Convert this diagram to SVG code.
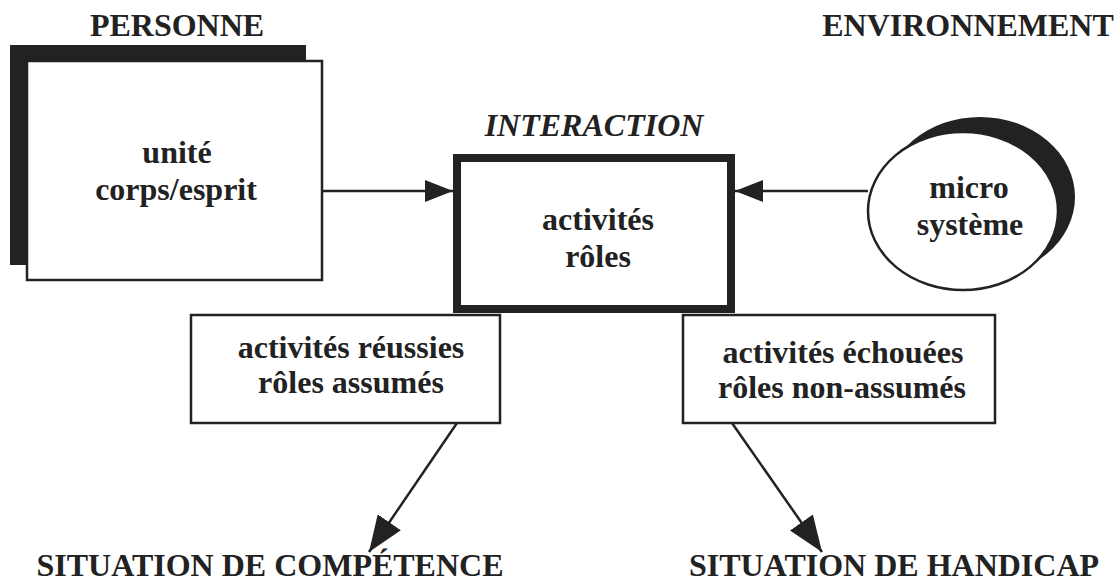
<svg xmlns="http://www.w3.org/2000/svg" width="1120" height="586" viewBox="0 0 1120 586" font-family="'Liberation Serif', 'DejaVu Serif', serif">
<defs>
<style>
.t{font-family:"Liberation Serif","DejaVu Serif",serif;font-weight:bold;font-size:32px;fill:#222;text-anchor:middle}
.it{font-style:italic}
.box{fill:#fff;stroke:#222;stroke-width:2.5}
.ln{stroke:#222;stroke-width:2.5;fill:none}
</style>
<marker id="ah" markerUnits="userSpaceOnUse" markerWidth="28" markerHeight="22" refX="28" refY="11" orient="auto"><path d="M0,0 L28,11 L0,22 z" fill="#222"/></marker>
<marker id="ah2" markerUnits="userSpaceOnUse" markerWidth="36" markerHeight="28" refX="36" refY="14" orient="auto"><path d="M0,0 L36,14 L0,28 z" fill="#222"/></marker>
</defs>
<rect width="1120" height="586" fill="#fff"/>
<text class="t" x="177" y="36">PERSONNE</text>
<text class="t" x="968" y="36">ENVIRONNEMENT</text>
<text class="t it" x="594" y="136">INTERACTION</text>
<g id="connectors">
<line class="ln" x1="322" y1="191" x2="453" y2="191" marker-end="url(#ah)"/>
<line class="ln" x1="868" y1="191" x2="735" y2="191" marker-end="url(#ah)"/>
<line class="ln" x1="457" y1="423" x2="369" y2="552" marker-end="url(#ah2)"/>
<line class="ln" x1="732" y1="423" x2="822" y2="552" marker-end="url(#ah2)"/>
</g>
<g id="personne">
<rect x="10" y="45" width="296" height="220" fill="#222"/>
<rect class="box" x="27" y="61" width="295" height="219"/>
<text class="t" x="177" y="163">unité</text>
<text class="t" x="176" y="200">corps/esprit</text>
</g>
<g id="interaction">
<rect x="457" y="158" width="274" height="151" fill="#fff" stroke="#222" stroke-width="8"/>
<text class="t" x="598" y="230">activités</text>
<text class="t" x="598" y="267">rôles</text>
</g>
<g id="microsysteme">
<ellipse cx="980" cy="197" rx="95" ry="80" fill="#222"/>
<ellipse cx="963" cy="211" rx="95" ry="79" fill="#fff" stroke="#222" stroke-width="2.5"/>
<text class="t" x="969" y="198">micro</text>
<text class="t" x="970" y="235">système</text>
</g>
<g id="reussies">
<rect class="box" x="191" y="315" width="309" height="108"/>
<text class="t" x="351" y="358">activités réussies</text>
<text class="t" x="351" y="393">rôles assumés</text>
</g>
<g id="echouees">
<rect class="box" x="683" y="315" width="312" height="108"/>
<text class="t" x="843" y="363">activités échouées</text>
<text class="t" x="842" y="398">rôles non-assumés</text>
</g>
<g id="competence"><text class="t" x="270" y="576">SITUATION DE COMPÉTENCE</text></g>
<g id="handicap"><text class="t" x="894" y="576">SITUATION DE HANDICAP</text></g>
</svg>
